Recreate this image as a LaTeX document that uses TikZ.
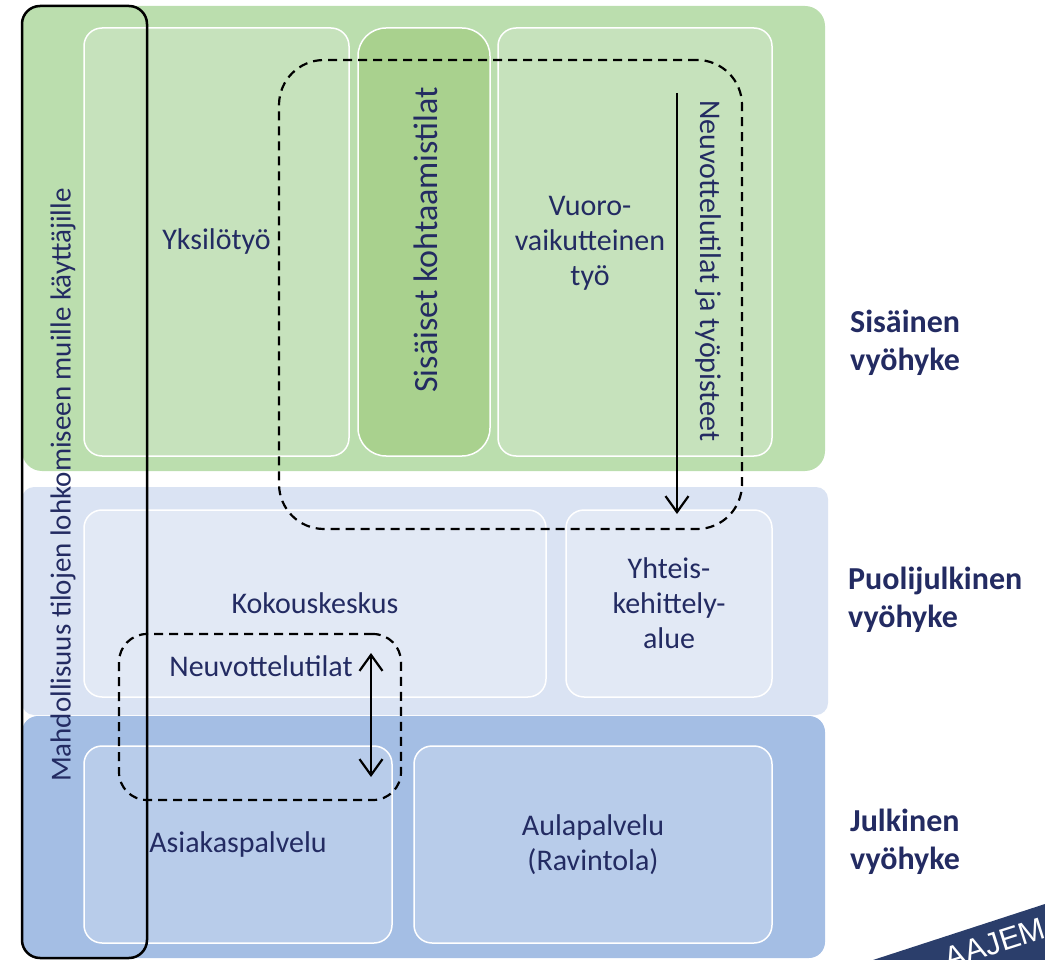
\documentclass[tikz,border=0pt]{standalone}
\usepackage{fontspec}
\setmainfont{Carlito}
\newfontfamily\bannerfont{Liberation Sans}
\usetikzlibrary{arrows.meta}
\definecolor{txt}{RGB}{35,43,98}
\definecolor{zgreen}{RGB}{187,222,174}
\definecolor{igreen}{RGB}{198,226,188}
\definecolor{dgreen}{RGB}{169,209,142}
\definecolor{zlblue}{RGB}{218,227,243}
\definecolor{ilblue}{RGB}{226,233,245}
\definecolor{zblue}{RGB}{164,190,228}
\definecolor{iblue}{RGB}{184,204,234}
\definecolor{banner}{RGB}{43,62,107}
\tikzset{
  zone/.style={rectangle, draw=none, inner sep=0pt, outer sep=0pt, rounded corners=20pt},
  inbox/.style={rectangle, draw=white, line width=1.5pt, inner sep=0pt, outer sep=0pt, rounded corners=18pt, text=txt, align=center, font=\fontsize{30}{35}\selectfont},
  lbl/.style={text=txt, align=center, inner sep=0pt, font=\fontsize{30}{35}\selectfont},
  zlbl/.style={text=txt, align=left, anchor=west, inner sep=0pt, font=\bfseries\fontsize{32}{38}\selectfont},
  dashbox/.style={rectangle, draw=black, line width=2.2pt, dash pattern=on 9pt off 6pt, inner sep=0pt, outer sep=0pt},
  blackbox/.style={rectangle, draw=black, line width=2.5pt, rounded corners=18pt, inner sep=0pt, outer sep=0pt},
  arr/.style={draw=black, line width=2.2pt},
  vtip/.tip={Straight Barb[length=16pt, width=23pt, line width=2.2pt]}
}
\begin{document}
\begin{tikzpicture}[x=1pt, y=-1pt]
\useasboundingbox (0,0) rectangle (1045,960);
% zones
\node[zone, fill=zgreen, minimum width=803pt, minimum height=465pt] (zg) at (423.5,238.5) {};
\node[zone, fill=zlblue, minimum width=806pt, minimum height=228pt, rounded corners=12pt] (zl) at (425,601) {};
\node[zone, fill=zblue, minimum width=803pt, minimum height=242pt, rounded corners=16pt] (zb) at (423.5,837) {};
% inner boxes
\node[inbox, fill=igreen, minimum width=265pt, minimum height=428pt] (yks) at (216.5,242) {Yksilötyö};
\node[inbox, fill=dgreen, minimum width=132pt, minimum height=428pt, rounded corners=28pt] (sis) at (424,242) {};
\node[inbox, fill=igreen, minimum width=274pt, minimum height=428pt] (vuo) at (635,242) {};
\node[inbox, fill=ilblue, minimum width=462pt, minimum height=187pt] (kok) at (315,603.5) {Kokouskeskus};
\node[inbox, fill=ilblue, minimum width=206pt, minimum height=187pt] (yht) at (669,603.5) {Yhteis-\\kehittely-\\alue};
\node[inbox, fill=iblue, minimum width=308pt, minimum height=197pt] (asi) at (238,844.5) {Asiakaspalvelu};
\node[inbox, fill=iblue, minimum width=358pt, minimum height=197pt] (aul) at (593,844.5) {Aulapalvelu\\(Ravintola)};
% labels inside green boxes
\node[lbl, rotate=90, font=\fontsize{34}{40}\selectfont] (sislbl) at (426,240) {Sisäiset kohtaamistilat};
\node[lbl] (vuolbl) at (590,243) {Vuoro-\\vaikutteinen\\työ};
\node[lbl, rotate=-90] (neulbl) at (708,271) {Neuvottelutilat ja työpisteet};
\node[lbl] (neu2) at (261,666) {Neuvottelutilat};
% dashed groups
\node[dashbox, minimum width=463pt, minimum height=469pt, rounded corners=45pt] (bigdash) at (510.5,294.5) {};
\node[dashbox, minimum width=282pt, minimum height=166pt, rounded corners=28pt] (smalldash) at (260,717) {};
% arrows
\coordinate (a1s) at (677,93);
\coordinate (a1e) at (677,514);
\draw[arr, -vtip] (a1s) -- (a1e);
\coordinate (a2s) at (371,653);
\coordinate (a2e) at (371,777);
\draw[arr, vtip-vtip] (a2s) -- (a2e);
% black vertical box
\node[blackbox, minimum width=125pt, minimum height=952pt] (blk) at (84.5,482) {};
\node[lbl, rotate=90, font=\fontsize{29}{34}\selectfont] (blklbl) at (63,485) {Mahdollisuus tilojen lohkomiseen muille käyttäjille};
% zone labels
\node[zlbl] (l1) at (850,343) {Sisäinen\\vyöhyke};
\node[zlbl] (l2) at (848,600) {Puolijulkinen\\vyöhyke};
\node[zlbl] (l3) at (850,842) {Julkinen\\vyöhyke};
% banner
\fill[banner] (873,960) -- (1045,904) -- (1045,975) -- (860,975) -- cycle;
\node[rotate=17.7, anchor=base west, text=white, inner sep=0pt, font=\bannerfont\fontsize{31}{31}\selectfont] (ban) at (948.8,969.3) {AAJEM};
\end{tikzpicture}
\end{document}
